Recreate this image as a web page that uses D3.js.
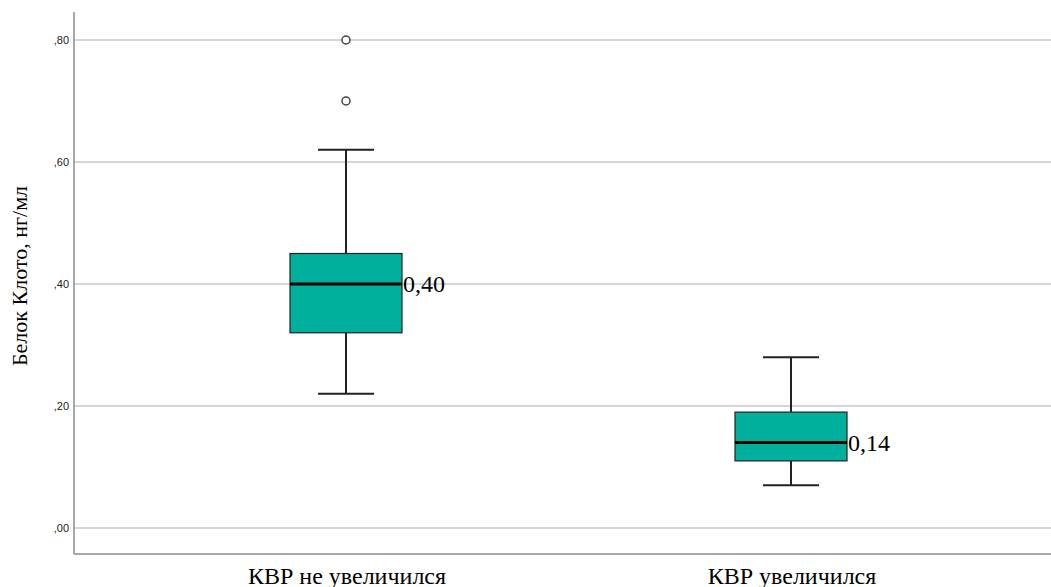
<!DOCTYPE html>
<html>
<head>
<meta charset="utf-8">
<script src="https://cdn.jsdelivr.net/npm/d3@7"></script>
<style>
  body { margin: 0; background: #fff; }
  svg { display: block; }
</style>
</head>
<body>
<svg id="chart"></svg>
<script>
// data
const groups = ['КВР не увеличился', 'КВР увеличился'];
const q1 = [0.32, 0.11];
const medians = [0.40, 0.14];
const q3 = [0.45, 0.19];
const whiskerLow = [0.22, 0.07];
const whiskerHigh = [0.62, 0.28];
const outliers = [[0.80, 0.70], []];
const yTicks = [0, 0.2, 0.4, 0.6, 0.8];
const medianLabels = ['0,40', '0,14'];

const width = 1051;
const height = 587;
const svg = d3.select('#chart')
    .attr('width', width)
    .attr('height', height);

const axisLeft = 74;
const axisBottom = 554;

const y = d3.scaleLinear()
    .domain([0, 0.8])
    .range([528, 40]);

// band centres for the two groups
const xc = d3.scaleBand().domain(groups).range([123.5, 1013.5]);
const cx = g => xc(g) + xc.bandwidth() / 2;

const boxW = 112;
const capW = 56;

// gridlines
svg.selectAll('.grid')
    .data(yTicks)
    .enter().append('line')
    .attr('x1', axisLeft)
    .attr('x2', width)
    .attr('y1', d => y(d))
    .attr('y2', d => y(d))
    .style('stroke', '#d6d6d6')
    .style('stroke-width', 2);

// axes lines
svg.append('line')
    .attr('x1', axisLeft).attr('x2', axisLeft)
    .attr('y1', 12).attr('y2', axisBottom)
    .style('stroke', '#8c8c8c').style('stroke-width', 1.5);
svg.append('line')
    .attr('x1', axisLeft).attr('x2', width)
    .attr('y1', axisBottom).attr('y2', axisBottom)
    .style('stroke', '#8c8c8c').style('stroke-width', 1.5);

// tick labels
svg.selectAll('.ytick')
    .data(yTicks)
    .enter().append('text')
    .attr('x', 69)
    .attr('y', d => y(d))
    .attr('dy', '0.35em')
    .attr('text-anchor', 'end')
    .style('font-family', 'Liberation Sans, Arial, sans-serif')
    .style('font-size', '11px')
    .style('fill', '#222')
    .text(d => d3.format('.2f')(d).replace('0.', ','));

// y axis title
svg.append('text')
    .attr('transform', 'translate(27,' + 276 + ') rotate(-90)')
    .attr('text-anchor', 'middle')
    .style('font-family', 'Liberation Serif, Times New Roman, serif')
    .style('font-size', '22px')
    .style('fill', '#000')
    .text('Белок Клото, нг/мл');

// x labels
svg.selectAll('.xlabel')
    .data(groups)
    .enter().append('text')
    .attr('x', d => cx(d) + 1)
    .attr('y', 584)
    .attr('text-anchor', 'middle')
    .style('font-family', 'Liberation Serif, Times New Roman, serif')
    .style('font-size', '24px')
    .style('fill', '#000')
    .text(d => d);

const boxes = svg.selectAll('.box')
    .data(groups)
    .enter().append('g');

// whiskers
boxes.append('line')
    .attr('x1', d => cx(d)).attr('x2', d => cx(d))
    .attr('y1', (d, i) => y(whiskerHigh[i]))
    .attr('y2', (d, i) => y(q3[i]))
    .style('stroke', '#222').style('stroke-width', 2);
boxes.append('line')
    .attr('x1', d => cx(d)).attr('x2', d => cx(d))
    .attr('y1', (d, i) => y(q1[i]))
    .attr('y2', (d, i) => y(whiskerLow[i]))
    .style('stroke', '#222').style('stroke-width', 2);
boxes.append('line')
    .attr('x1', d => cx(d) - capW / 2).attr('x2', d => cx(d) + capW / 2)
    .attr('y1', (d, i) => y(whiskerHigh[i]))
    .attr('y2', (d, i) => y(whiskerHigh[i]))
    .style('stroke', '#222').style('stroke-width', 2);
boxes.append('line')
    .attr('x1', d => cx(d) - capW / 2).attr('x2', d => cx(d) + capW / 2)
    .attr('y1', (d, i) => y(whiskerLow[i]))
    .attr('y2', (d, i) => y(whiskerLow[i]))
    .style('stroke', '#222').style('stroke-width', 2);

// box
boxes.append('rect')
    .attr('x', d => cx(d) - boxW / 2)
    .attr('width', boxW)
    .attr('y', (d, i) => y(q3[i]))
    .attr('height', (d, i) => y(q1[i]) - y(q3[i]))
    .style('fill', '#00b09c')
    .style('stroke', '#222')
    .style('stroke-width', 1.2);

// median
boxes.append('line')
    .attr('x1', d => cx(d) - boxW / 2).attr('x2', d => cx(d) + boxW / 2)
    .attr('y1', (d, i) => y(medians[i]))
    .attr('y2', (d, i) => y(medians[i]))
    .style('stroke', '#000').style('stroke-width', 3);

boxes.append('text')
    .attr('x', d => cx(d) + boxW / 2 + 1)
    .attr('y', (d, i) => y(medians[i]))
    .attr('dy', '0.35em')
    .style('font-family', 'Liberation Serif, Times New Roman, serif')
    .style('font-size', '24px')
    .style('fill', '#000')
    .text((d, i) => medianLabels[i]);

// outliers
groups.forEach((g, i) => {
    svg.selectAll(null)
        .data(outliers[i])
        .enter().append('circle')
        .attr('cx', cx(g))
        .attr('cy', d => y(d))
        .attr('r', 4)
        .style('fill', '#fff')
        .style('stroke', '#444')
        .style('stroke-width', 1.5);
});
</script>
</body>
</html>
